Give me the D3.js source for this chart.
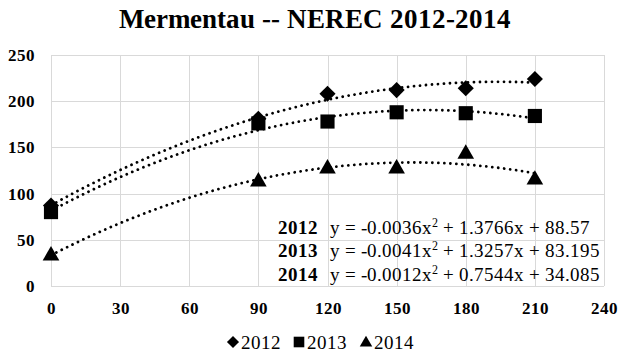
<!DOCTYPE html>
<html>
<head>
<meta charset="utf-8">
<script src="https://cdn.jsdelivr.net/npm/d3@7"></script>
<style>
  @font-face { font-family: "ChartSerif"; font-weight: 400; src: local("Liberation Serif"), local("LiberationSerif"), local("Times New Roman"); }
  @font-face { font-family: "ChartSerif"; font-weight: 700; src: local("Liberation Serif Bold"), local("LiberationSerif-Bold"), local("Times New Roman Bold"); }
  html, body { margin: 0; padding: 0; background: #fff; }
</style>
</head>
<body>
<svg id="chart" width="618" height="357" font-family="Liberation Serif"></svg>
<script>
// Sampling days and measured values per season
const days = [0, 90, 120, 150, 180, 210];
const years = ["2012", "2013", "2014"];
const values2012 = [87, 181, 208, 212, 214, 224];
const values2013 = [80, 176, 178, 188, 187, 184];
const values2014 = [34, 114, 128, 128, 144, 116];
// Trend equation labels, as published: y = a x^2 + b x + c
const eqLabels = [
  "y = -0.0036x² + 1.3766x + 88.57",
  "y = -0.0041x² + 1.3257x + 83.195",
  "y = -0.0012x² + 0.7544x + 34.085"
];
const xTicks = [0, 30, 60, 90, 120, 150, 180, 210, 240];
const yTicks = [0, 50, 100, 150, 200, 250];
const titleText = "Mermentau -- NEREC 2012-2014";

const FONT = "ChartSerif, Liberation Serif, Times New Roman, Times";

const series = [
  { name: years[0], values: values2012, eq: eqLabels[0], shape: "diamond" },
  { name: years[1], values: values2013, eq: eqLabels[1], shape: "square" },
  { name: years[2], values: values2014, eq: eqLabels[2], shape: "triangle" }
];

// Least-squares quadratic fit, returns [a, b, c] for y = a x^2 + b x + c
function quadFit(xs, ys) {
  let s0 = xs.length, s1 = 0, s2 = 0, s3 = 0, s4 = 0, t0 = 0, t1 = 0, t2 = 0;
  xs.forEach((xv, i) => {
    const yv = ys[i], x2 = xv * xv;
    s1 += xv; s2 += x2; s3 += x2 * xv; s4 += x2 * x2;
    t0 += yv; t1 += xv * yv; t2 += x2 * yv;
  });
  // Solve the normal equations with Cramer's rule
  const M = [[s4, s3, s2], [s3, s2, s1], [s2, s1, s0]];
  const R = [t2, t1, t0];
  const det = m => m[0][0] * (m[1][1] * m[2][2] - m[1][2] * m[2][1])
                 - m[0][1] * (m[1][0] * m[2][2] - m[1][2] * m[2][0])
                 + m[0][2] * (m[1][0] * m[2][1] - m[1][1] * m[2][0]);
  const D = det(M);
  return [0, 1, 2].map(k => det(M.map((row, r) => row.map((v, c) => c === k ? R[r] : v))) / D);
}

const svg = d3.select("#chart");
const margin = { left: 51, right: 14, top: 55, bottom: 71 };
const W = 618, H = 357;

const x = d3.scaleLinear().domain([0, 240]).range([margin.left, W - margin.right]);
const y = d3.scaleLinear().domain([0, 250]).range([H - margin.bottom, margin.top]);

function serif(sel, size, bold) {
  return sel.attr("font-family", FONT)
    .style("font-family", FONT)
    .attr("font-size", size)
    .attr("font-weight", bold ? "bold" : "normal");
}

// Title
serif(svg.append("text"), 27, true)
  .attr("x", 315).attr("y", 28)
  .attr("text-anchor", "middle")
  .text(titleText);

// Gridlines
const grid = svg.append("g").attr("stroke", "#d9d9d9").attr("stroke-width", 1);
grid.selectAll("line.h").data(yTicks).join("line")
  .attr("class", "h")
  .attr("x1", x(0)).attr("x2", x(240))
  .attr("y1", d => Math.round(y(d)) + 0.5).attr("y2", d => Math.round(y(d)) + 0.5);
grid.selectAll("line.v").data(xTicks).join("line")
  .attr("class", "v")
  .attr("y1", y(0)).attr("y2", y(250))
  .attr("x1", d => Math.round(x(d)) + 0.5).attr("x2", d => Math.round(x(d)) + 0.5);

// Axes (labels only; the grid provides the lines)
const xAxis = svg.append("g")
  .attr("transform", `translate(0,${y(0)})`)
  .call(d3.axisBottom(x).tickValues(xTicks).tickSize(0).tickPadding(16).tickFormat(d3.format("d")));
xAxis.attr("font-family", FONT).select(".domain").remove();
serif(xAxis.selectAll("text"), 17, true).attr("fill", "#000");

const yAxis = svg.append("g")
  .attr("transform", `translate(${x(0)},0)`)
  .call(d3.axisLeft(y).tickValues(yTicks).tickSize(0).tickPadding(16).tickFormat(d3.format("d")));
yAxis.attr("font-family", FONT).select(".domain").remove();
serif(yAxis.selectAll("text"), 17, true).attr("fill", "#000");

// Dotted polynomial trendlines fitted to each season
const line = d3.line().x(d => x(d[0])).y(d => y(d[1]));
series.forEach(s => {
  const [a, b, c] = quadFit(days, s.values);
  const pts = d3.range(0, 210.01, 2).map(t => [t, a * t * t + b * t + c]);
  svg.append("path")
    .attr("d", line(pts))
    .attr("fill", "none")
    .attr("stroke", "#000")
    .attr("stroke-width", 2.8)
    .attr("stroke-linecap", "round")
    .attr("stroke-dasharray", "0.01 6");
});

// Marker shapes
function markerPath(shape, scale) {
  if (shape === "diamond") return d3.symbol(d3.symbolSquare, 130 * scale * scale)();
  if (shape === "square") return d3.symbol(d3.symbolSquare, 200 * scale * scale)();
  return d3.symbol(d3.symbolTriangle, 120 * scale * scale)();
}
function markerTransform(shape, px, py) {
  if (shape === "diamond") return `translate(${px},${py}) rotate(45)`;
  if (shape === "triangle") return `translate(${px},${py + 1})`;
  return `translate(${px},${py})`;
}

series.forEach(s => {
  svg.append("g").selectAll("path")
    .data(days.map((d, i) => [d, s.values[i]]))
    .join("path")
    .attr("d", markerPath(s.shape, 1))
    .attr("transform", d => markerTransform(s.shape, x(d[0]), y(d[1])))
    .attr("fill", "#000");
});

// Trend equations
const eqX = 330, yearX = 318;
const eqBase = [234, 257, 281];
series.forEach((s, i) => {
  serif(svg.append("text"), 19, true)
    .attr("x", yearX).attr("y", eqBase[i])
    .attr("text-anchor", "end")
    .text(s.name);
  const [pre, post] = s.eq.split("²");
  const t = serif(svg.append("text"), 19, false)
    .attr("x", eqX).attr("y", eqBase[i]);
  t.append("tspan").text(pre);
  t.append("tspan").attr("font-size", 12).attr("dy", -7).text("2");
  t.append("tspan").attr("dy", 7).text(post);
});

// Legend
const legend = svg.append("g");
const legendX = [233, 299, 366];
series.forEach((s, i) => {
  legend.append("path")
    .attr("d", markerPath(s.shape, 0.75))
    .attr("transform", markerTransform(s.shape, legendX[i], 342))
    .attr("fill", "#000");
  serif(legend.append("text"), 19, false)
    .attr("x", legendX[i] + 8).attr("y", 349)
    .text(s.name);
});
</script>
</body>
</html>
